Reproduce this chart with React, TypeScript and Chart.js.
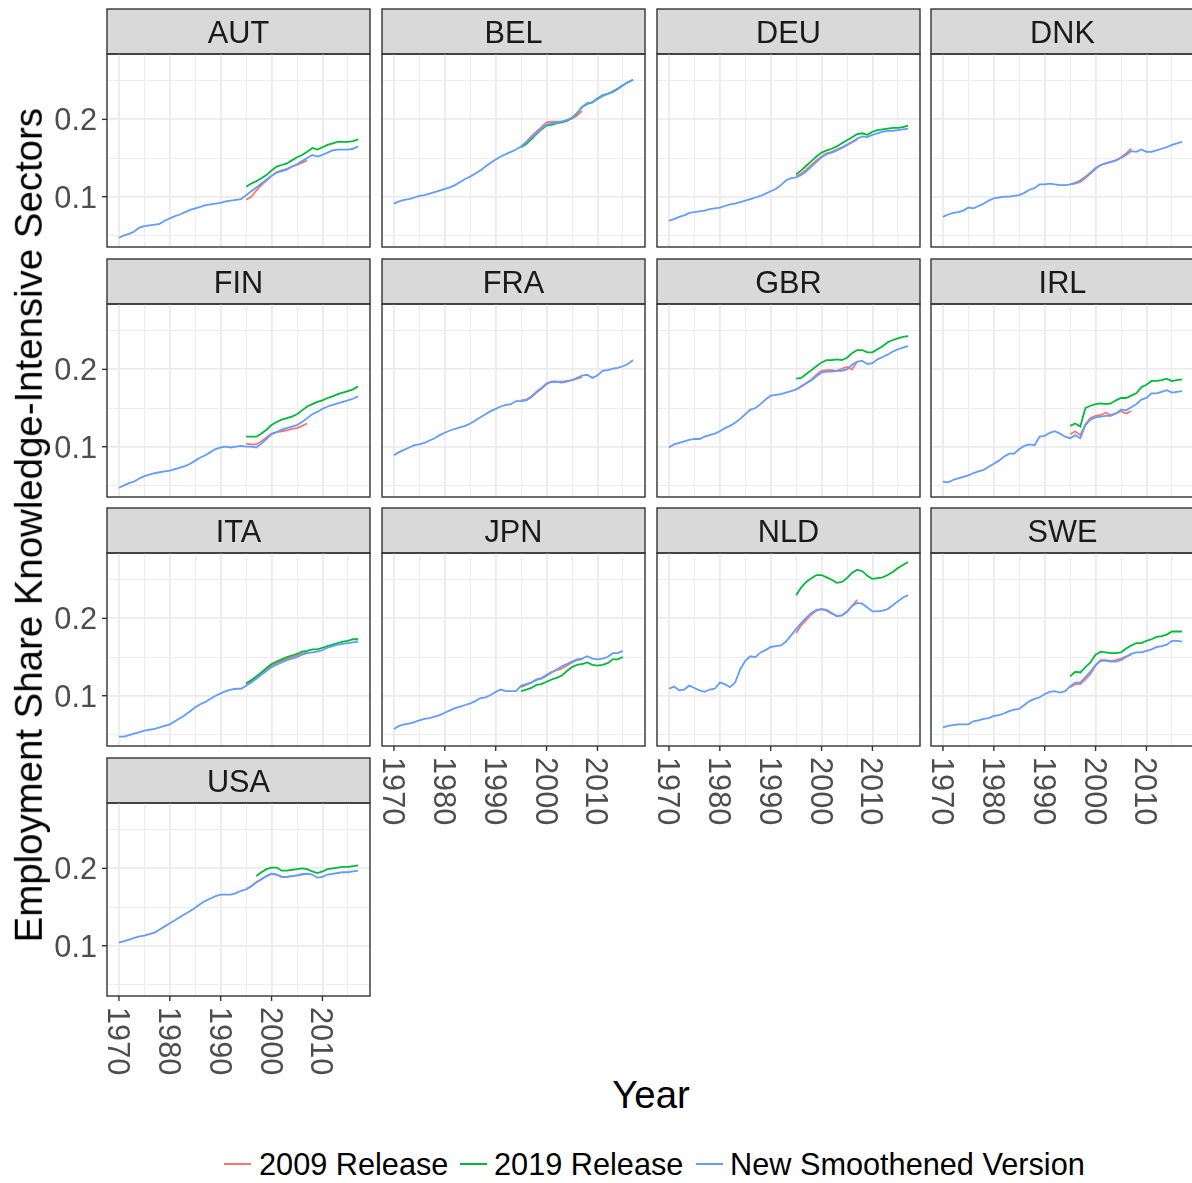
import React, { useEffect, useRef } from 'react';
import { Chart, registerables } from 'chart.js';

Chart.register(...registerables);

// ---------------- data ----------------
const START_NEW = 1970;
const START_2009 = 1995;
const START_2019 = 1995;
const START_2019_USA = 1997;

const AUT_NEW = [
  0.047, 0.050, 0.052, 0.055, 0.060, 0.062, 0.063, 0.064, 0.065, 0.069,
  0.072, 0.075, 0.077, 0.080, 0.083, 0.085, 0.087, 0.089, 0.090, 0.091,
  0.092, 0.094, 0.095, 0.096, 0.097, 0.102, 0.107, 0.112, 0.117, 0.122,
  0.127, 0.131, 0.133, 0.135, 0.139, 0.142, 0.146, 0.150, 0.154, 0.152,
  0.154, 0.157, 0.160, 0.161, 0.161, 0.161, 0.162, 0.165,
];
const AUT_2009 = [0.096, 0.100, 0.108, 0.115, 0.121, 0.127, 0.132, 0.134, 0.136, 0.139, 0.141, 0.144, 0.147];
const AUT_2019 = [
  0.113, 0.117, 0.120, 0.124, 0.128,
  0.134, 0.139, 0.141, 0.143, 0.147, 0.151, 0.154, 0.158, 0.163, 0.161,
  0.164, 0.167, 0.169, 0.171, 0.171, 0.171, 0.172, 0.174,
];

const BEL_NEW = [
  0.091, 0.094, 0.096, 0.097, 0.099, 0.101, 0.102, 0.104, 0.106, 0.108,
  0.110, 0.112, 0.115, 0.119, 0.123, 0.126, 0.130, 0.134, 0.139, 0.144,
  0.148, 0.152, 0.155, 0.158, 0.161, 0.165, 0.170, 0.176, 0.182, 0.188,
  0.193, 0.195, 0.196, 0.197, 0.199, 0.202, 0.208, 0.216, 0.221, 0.222,
  0.226, 0.230, 0.233, 0.235, 0.239, 0.244, 0.248, 0.251,
];
const BEL_2009 = [0.165, 0.171, 0.178, 0.184, 0.190, 0.196, 0.197, 0.197, 0.197, 0.199, 0.201, 0.205, 0.211];
const BEL_2019 = [
  0.164, 0.168, 0.174, 0.181, 0.187,
  0.192, 0.193, 0.195, 0.196, 0.198, 0.202, 0.208, 0.216, 0.220, 0.222,
  0.227, 0.231, 0.233, 0.236, 0.240, 0.244, 0.248, 0.251,
];

const DEU_NEW = [
  0.069, 0.071, 0.074, 0.076, 0.079, 0.080, 0.081, 0.082, 0.084, 0.085,
  0.086, 0.088, 0.090, 0.091, 0.093, 0.095, 0.097, 0.099, 0.101, 0.104,
  0.107, 0.110, 0.115, 0.121, 0.124, 0.125, 0.128, 0.133, 0.139, 0.145,
  0.151, 0.155, 0.157, 0.160, 0.163, 0.167, 0.171, 0.175, 0.178, 0.177,
  0.180, 0.182, 0.184, 0.185, 0.185, 0.186, 0.187, 0.188,
];
const DEU_2009 = [0.126, 0.130, 0.135, 0.141, 0.147, 0.152, 0.156, 0.158, 0.161, 0.164, 0.167, 0.170, 0.174];
const DEU_2019 = [
  0.129, 0.134, 0.140, 0.146, 0.152,
  0.157, 0.160, 0.162, 0.165, 0.169, 0.173, 0.177, 0.181, 0.182, 0.180,
  0.184, 0.186, 0.187, 0.188, 0.189, 0.189, 0.190, 0.192,
];

const DNK_NEW = [
  0.074, 0.077, 0.079, 0.080, 0.082, 0.086, 0.085, 0.088, 0.091, 0.095,
  0.098, 0.099, 0.100, 0.100, 0.101, 0.102, 0.105, 0.109, 0.111, 0.116,
  0.116, 0.117, 0.116, 0.115, 0.115, 0.116, 0.118, 0.121, 0.126, 0.131,
  0.137, 0.141, 0.143, 0.145, 0.147, 0.150, 0.154, 0.159, 0.158, 0.161,
  0.158, 0.158, 0.160, 0.162, 0.164, 0.167, 0.169, 0.171,
];
const DNK_2009 = [0.116, 0.117, 0.119, 0.124, 0.130, 0.136, 0.141, 0.143, 0.145, 0.147, 0.151, 0.156, 0.162];

const FIN_NEW = [
  0.047, 0.050, 0.053, 0.055, 0.059, 0.062, 0.064, 0.066, 0.067, 0.068,
  0.069, 0.071, 0.073, 0.075, 0.078, 0.082, 0.086, 0.089, 0.093, 0.097,
  0.099, 0.100, 0.099, 0.100, 0.101, 0.100, 0.100, 0.099, 0.104, 0.110,
  0.116, 0.119, 0.122, 0.124, 0.126, 0.128, 0.132, 0.137, 0.142, 0.145,
  0.149, 0.152, 0.154, 0.156, 0.158, 0.160, 0.162, 0.165,
];
const FIN_2009 = [0.104, 0.103, 0.103, 0.107, 0.112, 0.117, 0.119, 0.120, 0.121, 0.123, 0.124, 0.127, 0.130];
const FIN_2019 = [
  0.113, 0.113, 0.113, 0.117, 0.122,
  0.128, 0.132, 0.135, 0.137, 0.139, 0.142, 0.147, 0.152, 0.155, 0.158,
  0.160, 0.163, 0.165, 0.168, 0.170, 0.172, 0.174, 0.178,
];

const FRA_NEW = [
  0.089, 0.093, 0.096, 0.099, 0.102, 0.103, 0.105, 0.108, 0.111, 0.115,
  0.118, 0.121, 0.123, 0.125, 0.127, 0.130, 0.134, 0.138, 0.142, 0.146,
  0.149, 0.152, 0.154, 0.155, 0.159, 0.159, 0.160, 0.164, 0.170, 0.175,
  0.181, 0.184, 0.184, 0.183, 0.184, 0.186, 0.189, 0.192, 0.193, 0.189,
  0.192, 0.198, 0.199, 0.201, 0.202, 0.204, 0.207, 0.212,
];
const FRA_2009 = [0.160, 0.161, 0.165, 0.171, 0.176, 0.182, 0.184, 0.184, 0.184, 0.185, 0.186, 0.188, 0.190];

const GBR_NEW = [
  0.099, 0.103, 0.105, 0.107, 0.109, 0.110, 0.110, 0.113, 0.115, 0.117,
  0.120, 0.124, 0.127, 0.131, 0.136, 0.142, 0.148, 0.150, 0.155, 0.161,
  0.166, 0.167, 0.168, 0.170, 0.172, 0.174, 0.178, 0.182, 0.186, 0.191,
  0.196, 0.197, 0.197, 0.198, 0.198, 0.200, 0.206, 0.210, 0.211, 0.207,
  0.208, 0.213, 0.216, 0.219, 0.223, 0.226, 0.228, 0.230,
];
const GBR_2009 = [0.174, 0.178, 0.182, 0.187, 0.193, 0.198, 0.199, 0.199, 0.198, 0.201, 0.203, 0.200, 0.210];
const GBR_2019 = [
  0.188, 0.189, 0.194, 0.199, 0.204,
  0.209, 0.212, 0.212, 0.213, 0.212, 0.215, 0.221, 0.225, 0.225, 0.222,
  0.222, 0.226, 0.230, 0.235, 0.238, 0.240, 0.242, 0.243,
];

const IRL_NEW = [
  0.055, 0.054, 0.057, 0.059, 0.061, 0.063, 0.066, 0.068, 0.070, 0.074,
  0.078, 0.082, 0.087, 0.091, 0.091, 0.097, 0.101, 0.103, 0.102, 0.113,
  0.114, 0.118, 0.120, 0.117, 0.113, 0.111, 0.115, 0.111, 0.128, 0.135,
  0.138, 0.139, 0.140, 0.140, 0.143, 0.148, 0.147, 0.151, 0.155, 0.161,
  0.163, 0.169, 0.169, 0.171, 0.173, 0.170, 0.171, 0.172,
];
const IRL_2009 = [0.116, 0.120, 0.115, 0.129, 0.137, 0.140, 0.141, 0.144, 0.141, 0.143, 0.146, 0.143, 0.146];
const IRL_2019 = [
  0.127, 0.130, 0.126, 0.150, 0.153,
  0.155, 0.156, 0.155, 0.156, 0.160, 0.163, 0.163, 0.166, 0.169, 0.177,
  0.180, 0.185, 0.185, 0.186, 0.188, 0.185, 0.186, 0.187,
];

const ITA_NEW = [
  0.047, 0.047, 0.049, 0.051, 0.053, 0.055, 0.056, 0.057, 0.059, 0.061,
  0.063, 0.067, 0.071, 0.075, 0.080, 0.085, 0.089, 0.092, 0.096, 0.100,
  0.103, 0.106, 0.108, 0.109, 0.109, 0.113, 0.117, 0.122, 0.127, 0.132,
  0.137, 0.140, 0.143, 0.146, 0.148, 0.150, 0.153, 0.155, 0.156, 0.157,
  0.159, 0.162, 0.164, 0.166, 0.167, 0.168, 0.169, 0.170,
];
const ITA_2009 = [0.115, 0.119, 0.124, 0.129, 0.134, 0.139, 0.142, 0.145, 0.148, 0.150, 0.152, 0.154, 0.156];
const ITA_2019 = [
  0.116, 0.120, 0.125, 0.130, 0.136,
  0.141, 0.144, 0.147, 0.150, 0.152, 0.154, 0.157, 0.158, 0.160, 0.160,
  0.162, 0.164, 0.166, 0.168, 0.170, 0.171, 0.173, 0.173,
];

const JPN_NEW = [
  0.057, 0.061, 0.063, 0.064, 0.066, 0.068, 0.070, 0.071, 0.073, 0.075,
  0.078, 0.081, 0.084, 0.086, 0.088, 0.090, 0.093, 0.097, 0.098, 0.101,
  0.105, 0.108, 0.106, 0.106, 0.106, 0.113, 0.115, 0.117, 0.121, 0.122,
  0.126, 0.130, 0.134, 0.138, 0.141, 0.144, 0.147, 0.148, 0.151, 0.148,
  0.147, 0.148, 0.150, 0.155, 0.155, 0.158,
];
const JPN_2009 = [0.111, 0.114, 0.117, 0.120, 0.123, 0.127, 0.131, 0.133, 0.135, 0.139, 0.143, 0.146, 0.147];
const JPN_2019 = [
  0.106, 0.108, 0.110, 0.114, 0.115,
  0.118, 0.121, 0.123, 0.126, 0.132, 0.137, 0.140, 0.141, 0.143, 0.140,
  0.139, 0.140, 0.142, 0.147, 0.147, 0.150,
];

const NLD_NEW = [
  0.109, 0.112, 0.107, 0.108, 0.113, 0.110, 0.107, 0.105, 0.108, 0.109,
  0.117, 0.115, 0.111, 0.117, 0.134, 0.145, 0.151, 0.150, 0.156, 0.159,
  0.163, 0.164, 0.165, 0.170, 0.178, 0.186, 0.194, 0.201, 0.207, 0.211,
  0.212, 0.211, 0.207, 0.203, 0.204, 0.209, 0.216, 0.220, 0.219, 0.214,
  0.209, 0.209, 0.210, 0.212, 0.217, 0.222, 0.227, 0.230,
];
const NLD_2009 = [0.181, 0.191, 0.198, 0.205, 0.210, 0.212, 0.210, 0.206, 0.203, 0.204, 0.208, 0.216, 0.224];
const NLD_2019 = [
  0.230, 0.240, 0.247, 0.252, 0.256,
  0.256, 0.253, 0.250, 0.246, 0.247, 0.252, 0.259, 0.263, 0.261, 0.255,
  0.251, 0.252, 0.253, 0.256, 0.260, 0.265, 0.269, 0.273,
];

const SWE_NEW = [
  0.059, 0.061, 0.062, 0.063, 0.063, 0.063, 0.067, 0.068, 0.070, 0.071,
  0.074, 0.075, 0.077, 0.080, 0.082, 0.083, 0.088, 0.093, 0.096, 0.098,
  0.102, 0.105, 0.106, 0.104, 0.106, 0.112, 0.117, 0.117, 0.124, 0.131,
  0.140, 0.145, 0.145, 0.144, 0.144, 0.146, 0.150, 0.154, 0.156, 0.156,
  0.158, 0.160, 0.163, 0.164, 0.166, 0.171, 0.171, 0.170,
];
const SWE_2009 = [0.111, 0.115, 0.115, 0.121, 0.128, 0.139, 0.146, 0.146, 0.145, 0.146, 0.148, 0.151, 0.153];
const SWE_2019 = [
  0.125, 0.131, 0.130, 0.137, 0.143,
  0.153, 0.157, 0.156, 0.155, 0.155, 0.156, 0.161, 0.165, 0.168, 0.168,
  0.171, 0.173, 0.176, 0.177, 0.179, 0.183, 0.183, 0.183,
];

const USA_NEW = [
  0.104, 0.106, 0.108, 0.110, 0.112, 0.113, 0.115, 0.117, 0.121, 0.125,
  0.129, 0.133, 0.137, 0.141, 0.145, 0.149, 0.154, 0.158, 0.161, 0.164,
  0.166, 0.166, 0.166, 0.168, 0.171, 0.173, 0.177, 0.182, 0.186, 0.190,
  0.193, 0.192, 0.189, 0.189, 0.190, 0.191, 0.192, 0.193, 0.192, 0.188,
  0.189, 0.192, 0.193, 0.194, 0.195, 0.195, 0.196, 0.197,
];
const USA_2009 = [0.173, 0.177, 0.182, 0.186, 0.190, 0.193, 0.192, 0.189, 0.189, 0.190, 0.191, 0.193, 0.193];
const USA_2019 = [
  0.190, 0.195, 0.199,
  0.201, 0.201, 0.197, 0.197, 0.198, 0.199, 0.200, 0.199, 0.196, 0.194,
  0.196, 0.199, 0.200, 0.201, 0.202, 0.202, 0.203, 0.204,
];

// tick / grid values
const X_MAJOR = [1970, 1980, 1990, 2000, 2010];
const X_GRID = [1970, 1975, 1980, 1985, 1990, 1995, 2000, 2005, 2010, 2015];
const Y_MAJOR = [0.1, 0.2];
const Y_MAJOR_LABELS = ['0.1', '0.2'];
const Y_GRID = [0.05, 0.1, 0.15, 0.2, 0.25];
const Y_GRID_MAJOR = [false, true, false, true, false];

const SERIES_NAMES = ['2009 Release', '2019 Release', 'New Smoothened Version'];
const SERIES_COLORS = ['#F8766D', '#00BA38', '#619CFF'];

type PanelSpec = {
  code: string;
  row: number;
  col: number;
  bottom: boolean;
  nw: number[];
  r09: number[] | null;
  r19: number[] | null;
  start19: number;
};

const PANELS: PanelSpec[] = [
  { code: 'AUT', row: 0, col: 0, bottom: false, nw: AUT_NEW, r09: AUT_2009, r19: AUT_2019, start19: START_2019 },
  { code: 'BEL', row: 0, col: 1, bottom: false, nw: BEL_NEW, r09: BEL_2009, r19: BEL_2019, start19: START_2019 },
  { code: 'DEU', row: 0, col: 2, bottom: false, nw: DEU_NEW, r09: DEU_2009, r19: DEU_2019, start19: START_2019 },
  { code: 'DNK', row: 0, col: 3, bottom: false, nw: DNK_NEW, r09: DNK_2009, r19: null, start19: START_2019 },
  { code: 'FIN', row: 1, col: 0, bottom: false, nw: FIN_NEW, r09: FIN_2009, r19: FIN_2019, start19: START_2019 },
  { code: 'FRA', row: 1, col: 1, bottom: false, nw: FRA_NEW, r09: FRA_2009, r19: null, start19: START_2019 },
  { code: 'GBR', row: 1, col: 2, bottom: false, nw: GBR_NEW, r09: GBR_2009, r19: GBR_2019, start19: START_2019 },
  { code: 'IRL', row: 1, col: 3, bottom: false, nw: IRL_NEW, r09: IRL_2009, r19: IRL_2019, start19: START_2019 },
  { code: 'ITA', row: 2, col: 0, bottom: false, nw: ITA_NEW, r09: ITA_2009, r19: ITA_2019, start19: START_2019 },
  { code: 'JPN', row: 2, col: 1, bottom: true, nw: JPN_NEW, r09: JPN_2009, r19: JPN_2019, start19: START_2019 },
  { code: 'NLD', row: 2, col: 2, bottom: true, nw: NLD_NEW, r09: NLD_2009, r19: NLD_2019, start19: START_2019 },
  { code: 'SWE', row: 2, col: 3, bottom: true, nw: SWE_NEW, r09: SWE_2009, r19: SWE_2019, start19: START_2019 },
  { code: 'USA', row: 3, col: 0, bottom: true, nw: USA_NEW, r09: USA_2009, r19: USA_2019, start19: START_2019_USA },
];

// ---------------- layout / style ----------------
const X_MIN = 1967.65;
const X_MAX = 2019.35;
const Y_MIN = 0.035;
const Y_MAX = 0.2845;

const COL_LEFT = [107, 382, 657, 931];
const STRIP_TOP = [9, 259, 508, 758];
const PLOT_W = 263;
const STRIP_H = 45;
const PLOT_H = 193;

const FONT = '"Liberation Sans", Arial, Helvetica, sans-serif';
const TEXT_PX = 30.7;
const TITLE_PX = 38.4;
const BORDER = '#333333';
const GRID = '#ebebeb';
const STRIP_FILL = '#d9d9d9';

function toPoints(arr: number[], start: number) {
  return arr.map((v, i) => ({ x: start + i, y: v }));
}

function Panel({ spec }: { spec: PanelSpec }) {
  const ref = useRef<HTMLCanvasElement>(null);
  const isLeft = spec.col === 0;
  const padL = isLeft ? COL_LEFT[0] : 4;
  const padR = 4;
  const padT = 2 + STRIP_H;
  const padB = spec.bottom ? 92 : 4;
  const left = COL_LEFT[spec.col] - padL;
  const top = STRIP_TOP[spec.row] - 2;
  const W = padL + PLOT_W + padR;
  const H = padT + PLOT_H + padB;

  useEffect(() => {
    const canvas = ref.current;
    if (!canvas) return;

    const deco = {
      id: 'deco_' + spec.code,
      beforeDraw(chart: any) {
        const { ctx, chartArea: a } = chart;
        ctx.save();
        ctx.fillStyle = STRIP_FILL;
        ctx.fillRect(a.left, a.top - STRIP_H, a.right - a.left, STRIP_H);
        ctx.strokeStyle = BORDER;
        ctx.lineWidth = 1.4;
        ctx.strokeRect(a.left, a.top - STRIP_H, a.right - a.left, STRIP_H);
        ctx.fillStyle = '#1a1a1a';
        ctx.font = `${TEXT_PX}px ${FONT}`;
        ctx.textAlign = 'center';
        ctx.textBaseline = 'alphabetic';
        ctx.fillText(spec.code, (a.left + a.right) / 2, a.top - STRIP_H / 2 + 11);
        ctx.restore();
      },
      afterDraw(chart: any) {
        const { ctx, chartArea: a, scales } = chart;
        ctx.save();
        ctx.strokeStyle = BORDER;
        ctx.lineWidth = 1.4;
        ctx.strokeRect(a.left, a.top, a.right - a.left, a.bottom - a.top);
        ctx.font = `${TEXT_PX}px ${FONT}`;
        ctx.fillStyle = '#4d4d4d';
        if (isLeft) {
          Y_MAJOR.forEach((v, i) => {
            const y = scales.y.getPixelForValue(v);
            ctx.beginPath();
            ctx.moveTo(a.left - 5, y);
            ctx.lineTo(a.left, y);
            ctx.stroke();
            ctx.textAlign = 'right';
            ctx.textBaseline = 'alphabetic';
            ctx.fillText(Y_MAJOR_LABELS[i], a.left - 10, y + 11);
          });
        }
        if (spec.bottom) {
          X_MAJOR.forEach((v) => {
            const x = scales.x.getPixelForValue(v);
            ctx.beginPath();
            ctx.moveTo(x, a.bottom);
            ctx.lineTo(x, a.bottom + 5);
            ctx.stroke();
            ctx.save();
            ctx.translate(x, a.bottom + 11);
            ctx.rotate(Math.PI / 2);
            ctx.textAlign = 'left';
            ctx.textBaseline = 'alphabetic';
            ctx.fillText(String(v), 0, 11);
            ctx.restore();
          });
        }
        ctx.restore();
      },
    };

    const datasets: any[] = [
      {
        label: SERIES_NAMES[2],
        data: toPoints(spec.nw, START_NEW),
        borderColor: SERIES_COLORS[2],
      },
    ];
    if (spec.r19) {
      datasets.push({ label: SERIES_NAMES[1], data: toPoints(spec.r19, spec.start19), borderColor: SERIES_COLORS[1] });
    }
    if (spec.r09) {
      datasets.push({ label: SERIES_NAMES[0], data: toPoints(spec.r09, START_2009), borderColor: SERIES_COLORS[0] });
    }

    const chart = new Chart(canvas, {
      type: 'line',
      data: { datasets },
      options: {
        animation: false,
        responsive: false,
        maintainAspectRatio: false,
        devicePixelRatio: 1,
        layout: { padding: { left: padL, right: padR, top: padT, bottom: padB } },
        elements: {
          point: { radius: 0, hoverRadius: 0 },
          line: { borderWidth: 1.8, tension: 0, fill: false },
        },
        plugins: {
          legend: { display: false },
          tooltip: { enabled: false },
          title: { display: false },
        },
        events: [],
        scales: {
          x: {
            type: 'linear',
            min: X_MIN,
            max: X_MAX,
            border: { display: false },
            ticks: { display: false },
            grid: {
              color: GRID,
              drawTicks: false,
              lineWidth: (c: any) => (c.tick && c.tick.value % 10 === 0 ? 1.8 : 0.9),
            },
            afterBuildTicks: (s: any) => {
              s.ticks = X_GRID.map((v) => ({ value: v }));
            },
          },
          y: {
            type: 'linear',
            min: Y_MIN,
            max: Y_MAX,
            border: { display: false },
            ticks: { display: false },
            grid: {
              color: GRID,
              drawTicks: false,
              lineWidth: (c: any) => (Y_GRID_MAJOR[c.index] ? 1.8 : 0.9),
            },
            afterBuildTicks: (s: any) => {
              s.ticks = Y_GRID.map((v) => ({ value: v }));
            },
          },
        },
      },
      plugins: [deco],
    } as any);

    return () => chart.destroy();
  }, []);

  return (
    <canvas
      ref={ref}
      width={W}
      height={H}
      style={{ position: 'absolute', left, top, width: W, height: H }}
    />
  );
}

const LEGEND_ITEMS = [
  { line: 224, text: 259 },
  { line: 460, text: 494 },
  { line: 696, text: 730 },
];

export default function App() {
  return (
    <div
      style={{
        position: 'absolute',
        left: 0,
        top: 0,
        width: 1192,
        height: 1183,
        overflow: 'hidden',
        background: '#ffffff',
        fontFamily: FONT,
      }}
    >
      {PANELS.map((p) => (
        <Panel key={p.code} spec={p} />
      ))}
      <div
        style={{
          position: 'absolute',
          left: 29 - 450,
          top: 525 - TITLE_PX / 2,
          width: 900,
          height: TITLE_PX,
          lineHeight: `${TITLE_PX}px`,
          fontSize: TITLE_PX,
          textAlign: 'center',
          whiteSpace: 'nowrap',
          color: '#000',
          transform: 'rotate(-90deg)',
        }}
      >
        Employment Share Knowledge-Intensive Sectors
      </div>
      <div
        style={{
          position: 'absolute',
          left: 551,
          top: 1076,
          width: 200,
          height: TITLE_PX,
          lineHeight: `${TITLE_PX}px`,
          fontSize: TITLE_PX,
          textAlign: 'center',
          color: '#000',
        }}
      >
        Year
      </div>
      {LEGEND_ITEMS.map((it, i) => (
        <React.Fragment key={i}>
          <div
            style={{
              position: 'absolute',
              left: it.line,
              top: 1163,
              width: 27,
              height: 2,
              background: SERIES_COLORS[i],
            }}
          />
          <div
            style={{
              position: 'absolute',
              left: it.text,
              top: 1150,
              height: TEXT_PX,
              lineHeight: `${TEXT_PX}px`,
              fontSize: TEXT_PX,
              whiteSpace: 'nowrap',
              color: '#000',
            }}
          >
            {SERIES_NAMES[i]}
          </div>
        </React.Fragment>
      ))}
    </div>
  );
}
